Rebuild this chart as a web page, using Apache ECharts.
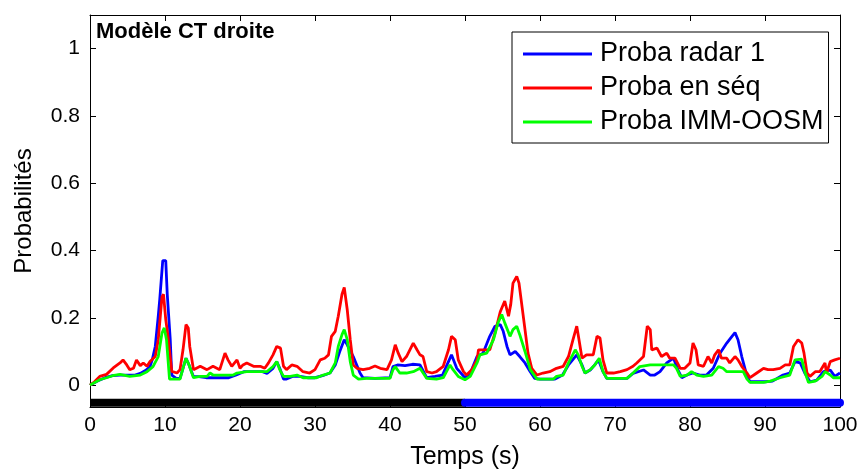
<!DOCTYPE html>
<html>
<head>
<meta charset="utf-8">
<script src="https://cdn.jsdelivr.net/npm/echarts@6/dist/echarts.min.js"></script>
<style>
  html, body { margin: 0; padding: 0; background: #fff; }
  #chart { width: 862px; height: 476px; }
</style>
</head>
<body>
<div id="chart"></div>
<script>
// Axis ticks
const xTicks = [0, 10, 20, 30, 40, 50, 60, 70, 80, 90, 100];
const yTicks = [0, 0.2, 0.4, 0.6, 0.8, 1];

// Legend names
const seriesNames = ['Proba radar 1', 'Proba en séq', 'Proba IMM-OOSM'];

// Proba radar 1 (time in s, probability)
const radarT = [0, 1, 2, 3, 4, 5, 6, 6.7, 7.5, 8, 8.3, 8.7, 9.1, 9.3, 9.7, 10.1, 10.3, 10.7, 10.9, 11.5,
  12, 12.4, 12.8, 13.2, 13.8, 14.5, 15.5, 17, 18.5, 19.5, 20.5, 22, 23, 23.6, 24.4, 24.9, 25.3, 25.8, 26.2, 27,
  28, 29, 30, 31, 32, 32.7, 33.3, 33.9, 34.3, 35.1, 36, 36.4, 38, 40, 40.4, 41, 42, 43, 44, 44.9,
  46, 47, 47.6, 48.2, 48.9, 50, 50.7, 51.6, 52.4, 53.3, 54, 54.7, 55.1, 55.6, 56, 56.7, 57.3, 58, 58.7, 59.3,
  60, 62, 63, 63.8, 64.9, 65.6, 66, 66.7, 67.3, 67.8, 68.4, 68.9, 70, 71.6, 72.4, 73.8, 74.7, 75.3, 76, 76.9,
  77.8, 78.4, 78.9, 79.6, 80.4, 81.3, 82.2, 83.1, 84, 84.9, 85.6, 86, 86.4, 86.9, 87.6, 88, 90, 91, 92.4, 93.3,
  94, 94.7, 95.3, 96, 96.9, 97.8, 98.7, 99.3, 100];
const radarP = [0, 0.012, 0.022, 0.028, 0.03, 0.03, 0.03, 0.035, 0.045, 0.055, 0.075, 0.115, 0.205, 0.255, 0.37, 0.37, 0.27, 0.135, 0.03, 0.02,
  0.02, 0.05, 0.08, 0.06, 0.025, 0.025, 0.022, 0.022, 0.022, 0.03, 0.04, 0.04, 0.04, 0.035, 0.05, 0.07, 0.05, 0.018, 0.018, 0.026,
  0.026, 0.022, 0.022, 0.028, 0.036, 0.06, 0.1, 0.135, 0.12, 0.085, 0.036, 0.022, 0.02, 0.022, 0.055, 0.06, 0.058, 0.062, 0.06, 0.022,
  0.026, 0.03, 0.06, 0.09, 0.05, 0.022, 0.035, 0.085, 0.095, 0.145, 0.175, 0.18, 0.16, 0.115, 0.09, 0.1, 0.085, 0.066, 0.04, 0.02,
  0.018, 0.018, 0.03, 0.06, 0.09, 0.06, 0.036, 0.045, 0.06, 0.075, 0.04, 0.02, 0.02, 0.02, 0.035, 0.045, 0.03, 0.03, 0.04, 0.066,
  0.08, 0.045, 0.022, 0.03, 0.036, 0.03, 0.03, 0.05, 0.095, 0.125, 0.145, 0.156, 0.135, 0.085, 0.026, 0.01, 0.01, 0.012, 0.03, 0.036,
  0.07, 0.066, 0.036, 0.01, 0.015, 0.04, 0.045, 0.026, 0.036];

// Proba en séq
const seqT = [0, 0.6, 1.3, 2.2, 3.1, 4, 4.4, 4.9, 5.3, 5.8, 6.2, 6.7, 7.1, 7.6, 8, 8.7, 9.1, 9.6, 9.8, 10.1,
  10.4, 10.9, 11.6, 12, 12.4, 12.8, 13.1, 13.3, 13.8, 14.7, 15.6, 16.4, 17.3, 18, 18.4, 18.9, 19.6, 20, 20.4, 20.9,
  21.8, 22.7, 23.3, 23.8, 24.4, 24.9, 25.4, 25.8, 26.2, 26.9, 27.6, 28.4, 29.3, 30, 30.7, 31.3, 31.8, 32.2, 32.7, 33.1,
  33.6, 33.9, 34.1, 34.3, 34.7, 35.1, 35.6, 36.4, 37.3, 38, 38.7, 39.6, 40.2, 40.7, 41.1, 41.6, 42.2, 43.1, 43.6, 44,
  44.4, 44.9, 45.6, 46.2, 47.1, 47.8, 48.2, 48.7, 49.1, 49.8, 50.2, 50.9, 51.6, 51.8, 53.3, 54, 54.7, 55.3, 55.8, 56.1,
  56.4, 56.9, 57.2, 57.6, 58, 58.4, 58.9, 59.6, 60.4, 61.3, 62.2, 63.1, 63.8, 64.4, 64.9, 65.2, 65.6, 66.2, 67.1, 67.6,
  68, 68.4, 68.9, 69.8, 70.7, 71.6, 72.4, 72.9, 73.8, 74.3, 74.7, 74.9, 75.6, 76.2, 76.9, 77.3, 78, 78.7, 79.3, 80,
  80.4, 80.8, 81.1, 81.8, 82.4, 82.9, 83.3, 83.8, 84.2, 84.9, 85.3, 86, 86.4, 86.9, 87.6, 88, 88.9, 89.8, 90.4, 91.1,
  92, 92.7, 93.3, 93.8, 94.4, 94.9, 95.2, 95.6, 96, 96.7, 97.3, 98, 98.2, 98.7, 99.3, 100];
const seqP = [0, 0.01, 0.026, 0.032, 0.051, 0.066, 0.075, 0.06, 0.046, 0.05, 0.075, 0.058, 0.066, 0.056, 0.07, 0.085, 0.135, 0.263, 0.27, 0.195,
  0.145, 0.041, 0.036, 0.046, 0.105, 0.18, 0.17, 0.115, 0.046, 0.056, 0.046, 0.056, 0.046, 0.095, 0.075, 0.056, 0.075, 0.05, 0.06, 0.066,
  0.056, 0.056, 0.05, 0.066, 0.09, 0.115, 0.11, 0.056, 0.046, 0.06, 0.056, 0.04, 0.036, 0.046, 0.075, 0.08, 0.09, 0.145, 0.16, 0.205,
  0.27, 0.29, 0.285, 0.224, 0.135, 0.06, 0.05, 0.046, 0.05, 0.057, 0.05, 0.046, 0.075, 0.12, 0.095, 0.07, 0.085, 0.125, 0.105, 0.09,
  0.085, 0.04, 0.036, 0.04, 0.056, 0.105, 0.145, 0.135, 0.075, 0.04, 0.03, 0.046, 0.075, 0.105, 0.105, 0.155, 0.218, 0.25, 0.205, 0.24,
  0.303, 0.323, 0.303, 0.234, 0.165, 0.095, 0.05, 0.03, 0.036, 0.04, 0.05, 0.056, 0.085, 0.135, 0.175, 0.135, 0.08, 0.09, 0.09, 0.145,
  0.14, 0.075, 0.036, 0.036, 0.04, 0.046, 0.056, 0.066, 0.085, 0.175, 0.165, 0.105, 0.11, 0.085, 0.095, 0.08, 0.08, 0.05, 0.05, 0.066,
  0.125, 0.105, 0.06, 0.056, 0.085, 0.066, 0.09, 0.105, 0.08, 0.08, 0.066, 0.085, 0.075, 0.056, 0.036, 0.022, 0.036, 0.05, 0.046, 0.046,
  0.05, 0.06, 0.06, 0.115, 0.135, 0.125, 0.095, 0.036, 0.026, 0.04, 0.04, 0.066, 0.036, 0.07, 0.075, 0.08];

// Proba IMM-OOSM
const oosmT = [0, 1.3, 2.2, 3, 4, 5.3, 6.7, 7.6, 8.4, 9.1, 9.6, 9.9, 10.2, 10.6, 11.1, 12, 12.4, 12.8, 13.2, 13.8,
  14.7, 15.6, 16, 16.4, 19.1, 19.6, 20.9, 22.7, 23.6, 24.4, 24.9, 25.3, 25.8, 26.7, 27.6, 28.4, 30.2, 31.1, 32, 32.7,
  33.1, 33.6, 33.9, 34.3, 34.7, 35.1, 35.8, 36.9, 40, 40.4, 40.7, 41.3, 42.2, 43.1, 44, 44.9, 46.2, 47.1, 48, 48.4,
  49.1, 50, 50.7, 51.6, 52, 52.9, 53.8, 54.4, 54.9, 55.3, 56, 56.4, 56.9, 57.3, 58, 58.7, 59.6, 61.8, 62.2, 63.1,
  63.8, 64.7, 65.1, 65.6, 66, 66.7, 67.3, 67.9, 68.4, 68.9, 71.6, 72.4, 73.3, 74.7, 77.8, 78.2, 78.7, 79.6, 80.2, 80.9,
  81.8, 82.9, 83.8, 84.4, 84.9, 87.1, 87.6, 88, 89.8, 90.7, 92, 93.3, 94, 94.9, 95.3, 95.8, 96.7, 97.6, 98, 98.7,
  99.1, 100];
const oosmP = [0, 0.016, 0.022, 0.028, 0.032, 0.026, 0.03, 0.04, 0.055, 0.085, 0.155, 0.17, 0.135, 0.018, 0.018, 0.018, 0.05, 0.08, 0.06, 0.022,
  0.026, 0.026, 0.036, 0.03, 0.03, 0.036, 0.04, 0.04, 0.04, 0.055, 0.07, 0.046, 0.026, 0.026, 0.03, 0.022, 0.022, 0.03, 0.036, 0.066,
  0.115, 0.15, 0.165, 0.135, 0.07, 0.03, 0.018, 0.02, 0.02, 0.046, 0.055, 0.036, 0.036, 0.04, 0.05, 0.02, 0.018, 0.022, 0.06, 0.046,
  0.026, 0.016, 0.026, 0.066, 0.09, 0.095, 0.135, 0.185, 0.21, 0.185, 0.145, 0.165, 0.175, 0.15, 0.1, 0.046, 0.018, 0.018, 0.026, 0.03,
  0.066, 0.105, 0.09, 0.056, 0.036, 0.046, 0.06, 0.08, 0.04, 0.02, 0.02, 0.036, 0.055, 0.06, 0.06, 0.05, 0.026, 0.03, 0.04, 0.03,
  0.026, 0.03, 0.055, 0.05, 0.04, 0.04, 0.018, 0.008, 0.008, 0.012, 0.022, 0.03, 0.075, 0.077, 0.04, 0.008, 0.012, 0.026, 0.04, 0.03,
  0.022, 0.022];

// Mode indicator strip under the curves: [start, end] in s, drawn at a fixed level
const modeSpans = [[0, 50], [50, 100]];
const modeLevel = -0.052;

const FONT = "'Liberation Sans', Arial, Helvetica, sans-serif";
const pairs = (t, p) => t.map((v, i) => [v, p[i]]);

const chart = echarts.init(document.getElementById('chart'), null, { renderer: 'canvas' });

const frameAxis = {
  axisLine: { show: true, onZero: false, lineStyle: { color: '#000', width: 1 } },
  splitLine: { show: false }
};

chart.setOption({
  animation: false,
  backgroundColor: '#fff',
  title: {
    text: 'Modèle CT droite',
    left: 96,
    top: 21,
    padding: 0,
    textStyle: { fontFamily: FONT, fontSize: 22, fontWeight: 'bold', color: '#000' }
  },
  grid: { left: 90, right: 22, top: 15, bottom: 69, containLabel: false },
  xAxis: [
    Object.assign({}, frameAxis, {
      type: 'value', position: 'bottom', min: 0, max: 100, interval: 10,
      axisTick: { show: true, inside: true, length: 6, lineStyle: { color: '#000' } },
      axisLabel: { show: true, margin: 8, fontFamily: FONT, fontSize: 21, color: '#000',
        customValues: xTicks },
      name: 'Temps (s)', nameLocation: 'middle', nameGap: 38,
      nameTextStyle: { fontFamily: FONT, fontSize: 25, color: '#000' }
    }),
    Object.assign({}, frameAxis, {
      type: 'value', position: 'top', min: 0, max: 100, interval: 10,
      axisTick: { show: true, inside: true, length: 6, lineStyle: { color: '#000' } },
      axisLabel: { show: false }
    })
  ],
  yAxis: [
    Object.assign({}, frameAxis, {
      type: 'value', position: 'left', min: -0.065, max: 1.1,
      axisTick: { show: true, inside: true, length: 6, customValues: yTicks, lineStyle: { color: '#000' } },
      axisLabel: { show: true, margin: 10, fontFamily: FONT, fontSize: 21, color: '#000', customValues: yTicks },
      name: 'Probabilités', nameLocation: 'middle', nameGap: 54,
      nameTextStyle: { fontFamily: FONT, fontSize: 24, color: '#000' }
    }),
    Object.assign({}, frameAxis, {
      type: 'value', position: 'right', min: -0.065, max: 1.1,
      axisTick: { show: true, inside: true, length: 6, customValues: yTicks, lineStyle: { color: '#000' } },
      axisLabel: { show: false }
    })
  ],
  legend: {
    data: seriesNames,
    orient: 'vertical',
    left: 512,
    top: 32,
    padding: [5, 5, 4, 11],
    itemGap: 0,
    itemWidth: 69,
    itemHeight: 3,
    icon: 'rect',
    backgroundColor: '#fff',
    borderColor: '#000',
    borderWidth: 1,
    borderRadius: 0,
    selectedMode: false,
    textStyle: { fontFamily: FONT, fontSize: 27, color: '#000', lineHeight: 29, padding: [5, 0, 0, 3] }
  },
  series: [
    {
      name: 'mode-a', type: 'line', xAxisIndex: 0, yAxisIndex: 0,
      data: modeSpans[0].map(t => [t, modeLevel]),
      showSymbol: false, silent: true, clip: true, z: 1,
      lineStyle: { color: '#000', width: 8, cap: 'butt' }
    },
    {
      name: 'mode-b', type: 'line', xAxisIndex: 0, yAxisIndex: 0,
      data: modeSpans[1].map(t => [t, modeLevel]),
      showSymbol: false, silent: true, clip: true, z: 1,
      lineStyle: { color: '#0000ff', width: 8, cap: 'round' }
    },
    {
      name: seriesNames[0], type: 'line', data: pairs(radarT, radarP),
      showSymbol: false, clip: true, color: '#0000ff',
      lineStyle: { color: '#0000ff', width: 2.8 }
    },
    {
      name: seriesNames[1], type: 'line', data: pairs(seqT, seqP),
      showSymbol: false, clip: true, color: '#ff0000',
      lineStyle: { color: '#ff0000', width: 2.8 }
    },
    {
      name: seriesNames[2], type: 'line', data: pairs(oosmT, oosmP),
      showSymbol: false, clip: true, color: '#00ff00',
      lineStyle: { color: '#00ff00', width: 2.8 }
    }
  ]
});
</script>
</body>
</html>
